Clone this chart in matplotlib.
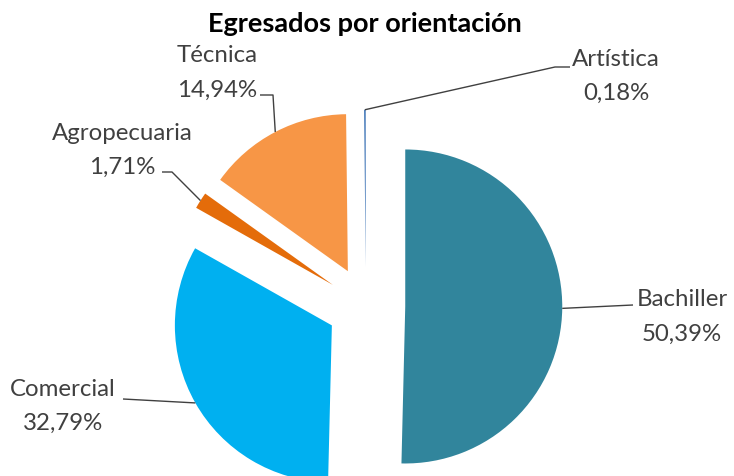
import math
import matplotlib
matplotlib.use("Agg")
import matplotlib.pyplot as plt

# ---- data ----
categories = ["Bachiller", "Comercial", "Agropecuaria", "Técnica", "Artística"]
values = [50.39, 32.79, 1.71, 14.94, 0.18]
pct_labels = ["50,39%", "32,79%", "1,71%", "14,94%", "0,18%"]
colors = ["#31859C", "#00B0F0", "#E46C0A", "#F79646", "#4F81BD"]
title = "Egresados por orientación"

W, H = 734, 476
fig = plt.figure(figsize=(W / 100, H / 100), dpi=100)
ax = fig.add_axes([0, 0, 1, 1])
ax.set_xlim(0, W)
ax.set_ylim(0, H)
ax.set_aspect("equal")
ax.axis("off")

FONT = "Lato"
R = 157
center = (366, H - 306)
explode = [0.25 * R] * len(values)

wedges, _ = ax.pie(values, colors=colors, startangle=90, counterclock=False,
                   radius=R, center=center, explode=explode,
                   wedgeprops=dict(linewidth=0))
ax.set_xlim(0, W)
ax.set_ylim(0, H)

# auto-fit font size so "Agropecuaria" ~141 px wide
fig.canvas.draw()
rend = fig.canvas.get_renderer()
t = fig.text(0, 0, "Agropecuaria", fontsize=16, family=FONT)
w = t.get_window_extent(rend).width
t.remove()
fs = 16 * 141 / w
tt = fig.text(0, 0, title, fontsize=16, family=FONT, fontweight="bold")
wt = tt.get_window_extent(rend).width
tt.remove()
fst = 16 * 315 / wt

ax.text(365, H - 24, title, ha="center", va="center", fontsize=fst,
        family=FONT, fontweight="bold", color="#000000")

# label layout: name center x, name y, pct y (image coords), elbow points
layout = {
    "Bachiller": dict(x=682, y1=300, y2=334, path=[(633, 305)]),
    "Comercial": dict(x=63, y1=390, y2=423, path=[(123, 399)]),
    "Agropecuaria": dict(x=122, y1=133, y2=167, path=[(172, 172), (162, 172)]),
    "Técnica": dict(x=217, y1=55, y2=90, path=[(273, 95), (260, 95)]),
    "Artística": dict(x=616, y1=60, y2=93, path=[(555, 67), (570, 67)]),
}

for wdg, name, pct in zip(wedges, categories, pct_labels):
    L = layout[name]
    cx, cy = wdg.center
    thm = math.radians((wdg.theta1 + wdg.theta2) / 2)
    ax_, ay_ = cx + wdg.r * math.cos(thm), cy + wdg.r * math.sin(thm)
    xs = [ax_] + [p[0] for p in L["path"]]
    ys = [ay_] + [H - p[1] for p in L["path"]]
    ax.plot(xs, ys, color="#404040", lw=1.0, solid_capstyle="butt")
    ax.text(L["x"], H - L["y1"], name, ha="center", va="center",
            fontsize=fs, family=FONT, color="#404040")
    ax.text(L["x"], H - L["y2"], pct, ha="center", va="center",
            fontsize=fs, family=FONT, color="#404040")

fig.savefig("out.png", dpi=100, facecolor="white")
